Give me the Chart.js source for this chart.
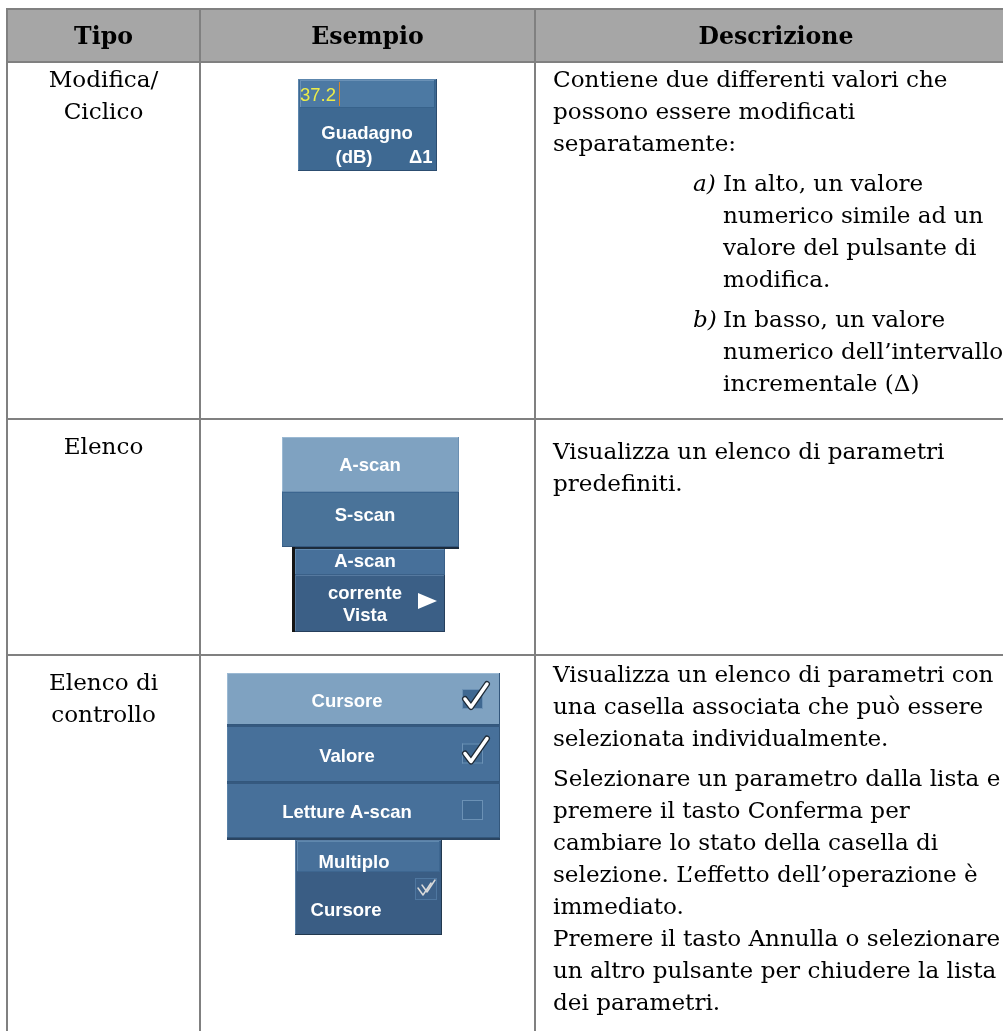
<!DOCTYPE html>
<html>

<head>
  <meta charset="utf-8">
  <title>Tipi di pulsante</title>
  <script src="https://cdn.jsdelivr.net/npm/chart.js"></script>
  <style>
    body { margin: 0; background: #fff; }
    canvas { display: block; }
  </style>
</head>

<body>
  <canvas id="myChart" width="1003" height="1031"></canvas>
  <script>

    // ---- table content ----
    let headers = ['Tipo', 'Esempio', 'Descrizione'];
    let tipoLines = [['Modifica/', 'Ciclico'], ['Elenco'], ['Elenco di', 'controllo']];
    let descBlocks = [
      [
        { lines: ['Contiene due differenti valori che', 'possono essere modificati', 'separatamente:'] },
        { label: 'a)', lines: ['In alto, un valore', 'numerico simile ad un', 'valore del pulsante di', 'modifica.'] },
        { label: 'b)', lines: ['In basso, un valore', 'numerico dell\u2019intervallo', 'incrementale (\u0394)'] }
      ],
      [
        { lines: ['Visualizza un elenco di parametri', 'predefiniti.'] }
      ],
      [
        { lines: ['Visualizza un elenco di parametri con', 'una casella associata che pu\u00f2 essere', 'selezionata individualmente.'] },
        { lines: ['Selezionare un parametro dalla lista e', 'premere il tasto Conferma per', 'cambiare lo stato della casella di', 'selezione. L\u2019effetto dell\u2019operazione \u00e8', 'immediato.', 'Premere il tasto Annulla o selezionare', 'un altro pulsante per chiudere la lista', 'dei parametri.'] }
      ]
    ];

    // example widgets
    let editValue = '37.2';
    let editLabel = ['Guadagno', '(dB)'];
    let editStep = '\u03941';
    let listItems = ['A-scan', 'S-scan'];
    let listButton = ['A-scan', 'corrente', 'Vista'];
    let checkItems = ['Cursore', 'Valore', 'Letture A-scan'];
    let checkStates = [true, true, false];
    let checkButton = ['Multiplo', 'Cursore'];

    // ---- layout (page units, mapped through the chart scales) ----
    let colEdges = [7, 200, 535, 1017];
    let rowEdges = [9, 62, 419, 655, 1040];
    let descStart = [87, 459, 682];
    let tipoStart = [87, 454, 690];
    let lineH = 32, paraGap = 8, tipoLineH = 32;
    let descX = 553, labelX = 693, itemX = 723;

    let tablePlugin = {
      id: 'table',
      afterDraw(chart) {
        let ctx = chart.ctx;
        let xs = chart.scales.x, ys = chart.scales.y;
        let X = v => xs.getPixelForValue(v);
        let Y = v => ys.getPixelForValue(v);

        function rect(x0, y0, x1, y1, color) {
          ctx.fillStyle = color;
          ctx.fillRect(X(x0), Y(y0), X(x1) - X(x0), Y(y1) - Y(y0));
        }
        function panel(x0, y0, x1, y1, fill, light, dark) {
          rect(x0, y0, x1, y1, fill);
          rect(x0, y0, x1, y0 + 1, light);
          rect(x0, y0, x0 + 1, y1, light);
          rect(x0, y1 - 1, x1, y1, dark);
          rect(x1 - 1, y0, x1, y1, dark);
        }
        function text(str, x, y, font, color, align) {
          ctx.font = font;
          ctx.fillStyle = color;
          ctx.textAlign = align || 'left';
          ctx.textBaseline = 'alphabetic';
          ctx.fillText(str, X(x), Y(y));
        }
        function checkBox(x0, y0, x1, y1, checked) {
          panel(x0, y0, x1, y1, '#3f6891', '#6b91b5', '#6b91b5');
          if (!checked) return;
          let pts = [[x0 + 3, y0 + 10], [x0 + 9, y1 - 2], [x1 + 4, y0 - 5]];
          ctx.lineJoin = 'round';
          ctx.lineCap = 'round';
          [['#1e2a36', 6], ['#ffffff', 3.5]].forEach(([c, w]) => {
            ctx.strokeStyle = c;
            ctx.lineWidth = w;
            ctx.beginPath();
            pts.forEach((p, i) => i ? ctx.lineTo(X(p[0]), Y(p[1])) : ctx.moveTo(X(p[0]), Y(p[1])));
            ctx.stroke();
          });
        }

        ctx.save();
        ctx.font = '22px "DejaVu Serif"';
        let bodySize = 22 * 395 / ctx.measureText(descBlocks[0][0].lines[0]).width;
        let body = bodySize.toFixed(1) + 'px "DejaVu Serif"';
        let bodyItalic = 'italic ' + body;
        let head = 'bold ' + (bodySize * 1.02).toFixed(1) + 'px "DejaVu Serif"';
        let sans = '18.5px "Liberation Sans", Arial, sans-serif';
        let sansBold = 'bold ' + sans;

        // header band
        rect(colEdges[0], rowEdges[0], colEdges[3], rowEdges[1], '#a6a6a6');

        // grid
        ctx.strokeStyle = '#808080';
        ctx.lineWidth = 2;
        ctx.beginPath();
        rowEdges.slice(0, 4).forEach(y => {
          ctx.moveTo(X(colEdges[0] - 1), Y(y));
          ctx.lineTo(X(colEdges[3]), Y(y));
        });
        colEdges.forEach(x => {
          ctx.moveTo(X(x), Y(rowEdges[0]));
          ctx.lineTo(X(x), Y(rowEdges[4]));
        });
        ctx.stroke();

        // header labels
        headers.forEach((h, i) => {
          text(h, (colEdges[i] + colEdges[i + 1]) / 2, 44, head, '#000', 'center');
        });

        // first column
        tipoLines.forEach((lines, r) => {
          lines.forEach((l, k) => {
            text(l, (colEdges[0] + colEdges[1]) / 2, tipoStart[r] + k * tipoLineH, body, '#000', 'center');
          });
        });

        // description column
        descBlocks.forEach((blocks, r) => {
          let y = descStart[r];
          blocks.forEach((b, bi) => {
            if (bi > 0) y += paraGap;
            if (b.label) text(b.label, labelX, y, bodyItalic, '#000');
            b.lines.forEach(l => {
              text(l, b.label ? itemX : descX, y, body, '#000');
              y += lineH;
            });
          });
        });

        // ---- example widgets ----
        // edit / cycle button
        panel(298, 79, 437, 171, '#3e6992', '#5c86ad', '#2c4d70');
        panel(300, 80, 435, 108, '#4c79a3', '#6a91b6', '#37628b');
        text(editValue, 300, 101, sans, '#ecec48');
        rect(339, 82, 340, 106, '#d8862c');
        text(editLabel[0], 367, 139, sansBold, '#fff', 'center');
        text(editLabel[1], 354, 163, sansBold, '#fff', 'center');
        text(editStep, 409, 163, sansBold, '#fff');

        // list
        panel(282, 437, 459, 492, '#7fa2c1', '#9bb9d3', '#6b8fb1');
        panel(282, 492, 459, 547, '#4a7399', '#3c6690', '#36597f');
        text(listItems[0], 370, 471, sansBold, '#fff', 'center');
        text(listItems[1], 365, 521, sansBold, '#fff', 'center');

        rect(292, 547, 459, 549, '#1c2b3b');
        rect(292, 547, 295, 632, '#141414');
        panel(295, 549, 445, 575, '#47709a', '#5f88ae', '#3a6088');
        panel(295, 575, 445, 632, '#3b5f86', '#56799f', '#263f5c');
        text(listButton[0], 365, 567, sansBold, '#fff', 'center');
        text(listButton[1], 365, 599, sansBold, '#fff', 'center');
        text(listButton[2], 365, 621, sansBold, '#fff', 'center');
        ctx.fillStyle = '#fff';
        ctx.beginPath();
        ctx.moveTo(X(418), Y(593));
        ctx.lineTo(X(437), Y(601));
        ctx.lineTo(X(418), Y(609));
        ctx.closePath();
        ctx.fill();

        // check list
        let rowsY = [[673, 725], [725, 782], [782, 838]];
        let fills = ['#7fa2c1', '#47709a', '#47709a'];
        rowsY.forEach(([y0, y1], i) => {
          panel(227, y0, 500, y1, fills[i], i ? '#5a82a8' : '#9bb9d3', '#33577c');
          if (i) rect(227, y0, 500, y0 + 2, '#35597f');
          text(checkItems[i], 347, (y0 + y1) / 2 + 8, sansBold, '#fff', 'center');
          let cy = (y0 + y1) / 2 - 10;
          checkBox(462, cy, 483, cy + 20, checkStates[i]);
        });
        rect(227, 838, 500, 840, '#2a4461');

        panel(295, 840, 442, 935, '#3a5d84', '#5b80a6', '#22394f');
        panel(297, 841, 440, 872, '#47709a', '#5f88ae', '#3d6690');
        text(checkButton[0], 354, 868, sansBold, '#fff', 'center');
        text(checkButton[1], 346, 916, sansBold, '#fff', 'center');
        panel(415, 878, 437, 900, '#3d6189', '#4f77a0', '#4f77a0');
        ctx.strokeStyle = '#dadada';
        ctx.lineWidth = 1.5;
        ctx.beginPath();
        [[0, 0], [4, -3]].forEach(([dx, dy]) => {
          ctx.moveTo(X(418 + dx), Y(888 + dy));
          ctx.lineTo(X(423 + dx), Y(895 + dy));
          ctx.lineTo(X(431 + dx), Y(883 + dy));
        });
        ctx.stroke();

        ctx.restore();
      }
    };

    let ctx = document.getElementById('myChart').getContext('2d');
    let myChart = new Chart(ctx, {
      type: 'scatter',
      data: { datasets: [] },
      options: {
        responsive: false,
        animation: false,
        devicePixelRatio: 1,
        events: [],
        layout: { padding: 0 },
        plugins: { legend: { display: false }, tooltip: { enabled: false } },
        scales: {
          x: { type: 'linear', min: 0, max: 1003, display: false },
          y: { type: 'linear', min: 0, max: 1031, reverse: true, display: false }
        }
      },
      plugins: [tablePlugin]
    });

  </script>
</body>

</html>
